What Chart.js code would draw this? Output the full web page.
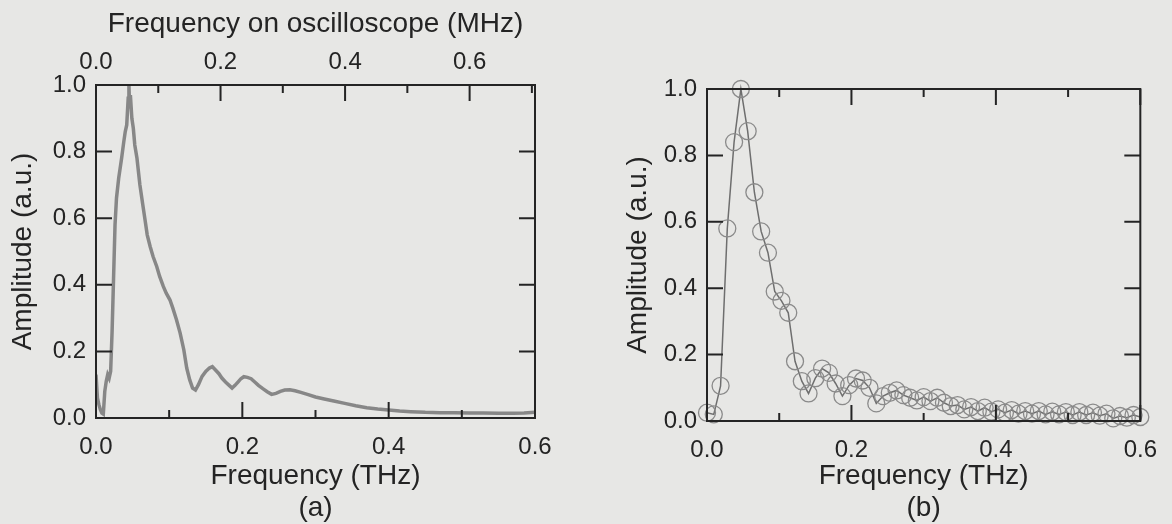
<!DOCTYPE html>
<html>
<head>
<meta charset="utf-8">
<script src="https://cdn.jsdelivr.net/npm/chart.js@4.4.1/dist/chart.umd.min.js"></script>
<style>
  html, body { margin: 0; padding: 0; background: #e7e7e5; }
  #wrap { position: relative; width: 1172px; height: 524px; overflow: hidden; }
  #canvasA { position: absolute; left: 0; top: 0; }
  #canvasB { position: absolute; left: 600px; top: 0; }
</style>
</head>
<body>
<div id="wrap">
  <canvas id="canvasA" width="580" height="524"></canvas>
  <canvas id="canvasB" width="572" height="524"></canvas>
</div>
<script>
// panel (a): measured spectrum, THz on bottom, oscilloscope MHz on top
const thzA = [0.000, 0.002, 0.004, 0.006, 0.008, 0.010, 0.012, 0.014, 0.016, 0.018,
  0.020, 0.022, 0.024, 0.026, 0.028, 0.031, 0.035, 0.038, 0.040, 0.042,
  0.044, 0.045, 0.046, 0.047, 0.049, 0.051, 0.053, 0.056, 0.060, 0.064,
  0.067, 0.070, 0.074, 0.078, 0.083, 0.087, 0.092, 0.096, 0.101, 0.105,
  0.110, 0.115, 0.120, 0.124, 0.128, 0.132, 0.136, 0.140, 0.145, 0.150,
  0.155, 0.159, 0.163, 0.168, 0.172, 0.177, 0.182, 0.186, 0.190, 0.194,
  0.198, 0.202, 0.207, 0.212, 0.217, 0.222, 0.228, 0.234, 0.240, 0.246,
  0.252, 0.258, 0.265, 0.272, 0.280, 0.290, 0.300, 0.312, 0.325, 0.340,
  0.355, 0.370, 0.385, 0.400, 0.415, 0.430, 0.450, 0.470, 0.490, 0.510,
  0.530, 0.550, 0.570, 0.585, 0.600];
const ampA = [0.13, 0.06, 0.04, 0.025, 0.015, 0.012, 0.08, 0.11, 0.13, 0.12,
  0.14, 0.26, 0.42, 0.58, 0.66, 0.72, 0.78, 0.83, 0.86, 0.88,
  0.96, 1.00, 0.93, 0.97, 0.90, 0.87, 0.82, 0.78, 0.70, 0.64,
  0.595, 0.55, 0.515, 0.485, 0.455, 0.425, 0.395, 0.375, 0.355, 0.33,
  0.295, 0.255, 0.205, 0.15, 0.115, 0.09, 0.084, 0.10, 0.125, 0.14,
  0.15, 0.154, 0.145, 0.133, 0.12, 0.108, 0.098, 0.09, 0.098, 0.108,
  0.118, 0.124, 0.122, 0.118, 0.108, 0.098, 0.088, 0.079, 0.071, 0.074,
  0.08, 0.084, 0.085, 0.082, 0.077, 0.07, 0.063, 0.057, 0.051, 0.044,
  0.037, 0.031, 0.027, 0.024, 0.021, 0.019, 0.017, 0.016, 0.016, 0.015,
  0.015, 0.014, 0.014, 0.015, 0.017];

// panel (b): sampled spectrum (circles)
const thzB = [0.0000, 0.0094, 0.0188, 0.0281, 0.0375, 0.0469, 0.0563, 0.0656, 0.0750, 0.0844,
  0.0938, 0.1031, 0.1125, 0.1219, 0.1313, 0.1406, 0.1500, 0.1594, 0.1688, 0.1781,
  0.1875, 0.1969, 0.2063, 0.2156, 0.2250, 0.2344, 0.2438, 0.2531, 0.2625, 0.2719,
  0.2813, 0.2906, 0.3000, 0.3094, 0.3188, 0.3281, 0.3375, 0.3469, 0.3563, 0.3656,
  0.3750, 0.3844, 0.3938, 0.4031, 0.4125, 0.4219, 0.4313, 0.4406, 0.4500, 0.4594,
  0.4688, 0.4781, 0.4875, 0.4969, 0.5063, 0.5156, 0.5250, 0.5344, 0.5438, 0.5531,
  0.5625, 0.5719, 0.5813, 0.5906, 0.6000];
const ampB = [0.025, 0.02, 0.106, 0.58, 0.84, 1.00, 0.873, 0.689, 0.571, 0.507,
  0.39, 0.362, 0.326, 0.18, 0.12, 0.083, 0.129, 0.158, 0.145, 0.113,
  0.075, 0.108, 0.128, 0.122, 0.10, 0.053, 0.075, 0.085, 0.092, 0.078,
  0.07, 0.062, 0.072, 0.06, 0.07, 0.055, 0.045, 0.048, 0.035, 0.042,
  0.03, 0.04, 0.028, 0.035, 0.025, 0.033, 0.022, 0.03, 0.022, 0.03,
  0.02, 0.028, 0.02, 0.027, 0.018, 0.027, 0.018, 0.025, 0.016, 0.022,
  0.008, 0.015, 0.01, 0.018, 0.012];

const ink = '#242424';
const font = 'Liberation Sans, Arial, sans-serif';
const isMajor = v => Math.abs(v / 0.2 - Math.round(v / 0.2)) < 1e-6;
const majorLabel = v => isMajor(v) ? Math.abs(v).toFixed(1) : '';

// frame box + inward ticks on every side
const frameTicks = {
  id: 'frameTicks',
  afterDatasetsDraw(chart, args, opts) {
    const {ctx, chartArea: a, scales} = chart;
    ctx.save();
    ctx.strokeStyle = ink;
    ctx.lineWidth = 2;
    ctx.strokeRect(a.left, a.top, a.right - a.left, a.bottom - a.top);
    ctx.beginPath();
    scales.x.ticks.forEach(t => {
      const px = scales.x.getPixelForValue(t.value);
      const len = isMajor(t.value) ? 16 : 8;
      ctx.moveTo(px, a.bottom); ctx.lineTo(px, a.bottom - len);
      if (opts.mirrorX) { ctx.moveTo(px, a.top); ctx.lineTo(px, a.top + len); }
    });
    if (scales.x2) {
      scales.x2.ticks.forEach(t => {
        const px = scales.x2.getPixelForValue(t.value);
        const len = isMajor(t.value) ? 16 : 8;
        ctx.moveTo(px, a.top); ctx.lineTo(px, a.top + len);
      });
    }
    scales.y.ticks.forEach(t => {
      const py = scales.y.getPixelForValue(t.value);
      ctx.moveTo(a.left, py); ctx.lineTo(a.left + 16, py);
      ctx.moveTo(a.right, py); ctx.lineTo(a.right - 16, py);
    });
    ctx.stroke();
    ctx.restore();
  }
};

const xAxis = (label, h) => ({
  type: 'linear', position: 'bottom', min: 0, max: 0.6,
  grid: {drawOnChartArea: false, drawTicks: false},
  border: {display: false},
  ticks: {stepSize: 0.1, autoSkip: false, maxRotation: 0, padding: 15,
    color: ink, font: {family: font, size: 24}, callback: majorLabel},
  title: {display: true, text: ['Frequency (THz)', label], color: ink,
    font: {family: font, size: 28, lineHeight: 1.143}, padding: {top: 0, bottom: 0}},
  afterFit: s => { s.height = h; }
});

const yAxis = (w, titlePad) => ({
  min: 0, max: 1,
  grid: {drawOnChartArea: false, drawTicks: false},
  border: {display: false},
  ticks: {stepSize: 0.2, autoSkip: false, padding: 10, color: ink,
    font: {family: font, size: 24}, callback: v => v.toFixed(1)},
  title: {display: true, text: 'Amplitude (a.u.)', color: ink,
    font: {family: font, size: 28, lineHeight: 1.2}, padding: {top: titlePad, bottom: 0}},
  afterFit: s => { s.width = w; }
});

new Chart(document.getElementById('canvasA'), {
  type: 'line',
  data: {
    datasets: [{
      data: thzA.map((x, i) => ({x: x, y: ampA[i]})),
      borderColor: '#878787',
      borderWidth: 3.5,
      pointRadius: 0,
      tension: 0
    }]
  },
  options: {
    responsive: false,
    animation: false,
    layout: {padding: {left: 0, right: 45, top: 0, bottom: 0}},
    plugins: {legend: {display: false}, tooltip: {enabled: false}, frameTicks: {mirrorX: false}},
    scales: {
      x: xAxis('(a)', 106),
      x2: {
        type: 'linear', position: 'top', min: 0, max: 0.705,
        grid: {drawOnChartArea: false, drawTicks: false},
        border: {display: false},
        ticks: {stepSize: 0.1, includeBounds: false, autoSkip: false, maxRotation: 0, padding: 8,
          color: ink, font: {family: font, size: 24}, callback: majorLabel},
        title: {display: true, text: 'Frequency on oscilloscope (MHz)', color: ink,
          font: {family: font, size: 28, lineHeight: 1.143}, padding: {top: 8, bottom: 0}},
        afterFit: s => { s.height = 85; }
      },
      y: yAxis(96, 6)
    }
  },
  plugins: [frameTicks]
});

new Chart(document.getElementById('canvasB'), {
  type: 'line',
  data: {
    datasets: [{
      data: thzB.map((x, i) => ({x: x, y: ampB[i]})),
      borderColor: '#6e6e6e',
      borderWidth: 1.5,
      pointRadius: 8.5,
      pointBorderColor: '#8a8a8a',
      pointBorderWidth: 1.3,
      pointBackgroundColor: 'rgba(0,0,0,0)',
      tension: 0,
      clip: false
    }]
  },
  options: {
    responsive: false,
    animation: false,
    layout: {padding: {left: 0, right: 27, top: 89, bottom: 0}},
    plugins: {legend: {display: false}, tooltip: {enabled: false}, frameTicks: {mirrorX: true}},
    scales: {
      x: xAxis('(b)', 103),
      y: yAxis(107, 21)
    }
  },
  plugins: [frameTicks]
});
</script>
</body>
</html>
